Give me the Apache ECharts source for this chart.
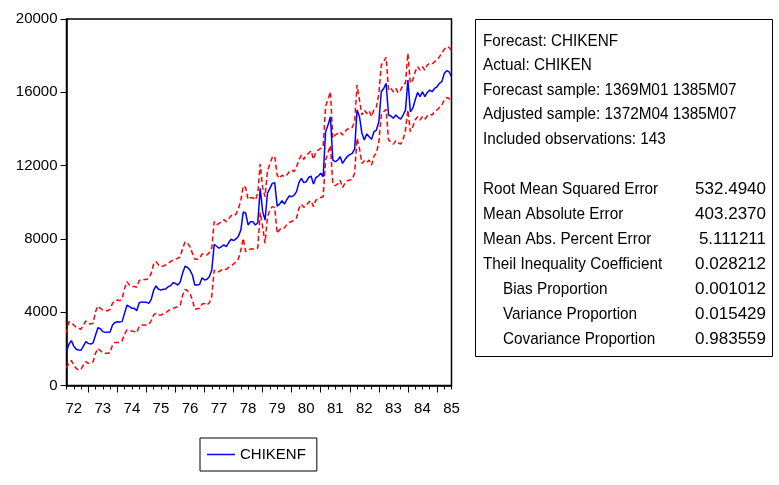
<!DOCTYPE html>
<html lang="en">
<head>
  <meta charset="UTF-8">
  <title>CHIKENF forecast</title>
  <script src="https://cdn.jsdelivr.net/npm/echarts@6/dist/echarts.min.js"></script>
  <style>
    html, body { margin: 0; padding: 0; background: #fff; }
    #chart { width: 779px; height: 485px; }
  </style>
</head>
<body>
  <div id="chart"></div>
  <script>
    // monthly forecast, 1372M04 .. 1385M07 (160 months)
    const startYear = 72, startMonth = 4, nMonths = 160;

    const forecast = [
      1850, 2250, 2450, 2150, 1980, 1940, 1930, 2150, 2390,
      2300, 2260, 2330, 2750, 3150, 3100, 2940, 2900, 2900, 2920, 3300, 3430,
      3480, 3460, 3500, 3950, 4390, 4300, 4210, 4210, 4080, 4500, 4560, 4540,
      4540, 4480, 4700, 5200, 5430, 5250, 5210, 5250, 5270, 5390, 5450, 5610,
      5570, 5480, 5660, 6150, 6520, 6440, 6300, 6030, 5480, 5480, 5520, 5880,
      5760, 5800, 5940, 6300, 7700, 7600, 7490, 7580, 7670, 7580, 7800, 7980,
      7900, 8000, 8150, 8480, 9480, 9400, 8760, 8940, 8940, 8760, 8880, 10760,
      9500, 9030, 10490, 10760, 11030, 11070, 9790, 9900, 10080, 9900, 10150, 10340,
      10300, 10390, 10580, 11070, 11300, 11070, 11120, 11350, 11430, 10990, 11350, 11430,
      11580, 11390, 13850, 14210, 14670, 12300, 12210, 12300, 12490, 12120, 12330, 12500,
      12600, 12670, 12900, 15030, 14670, 13760, 13400, 13730, 13580, 13440, 13850, 13940,
      14400, 16030, 16210, 16490, 14760, 14710, 14580, 14760, 14630, 14530, 14760, 15030,
      16670, 14940, 15120, 15580, 15990, 15760, 16030, 15760, 15990, 16120, 16030, 16210,
      16300, 16490, 16580, 17030, 17180, 17120, 16850
    ];

    const upper = [
      2850, 3480, 3430, 3300, 3170, 3120, 3070, 3300, 3520,
      3390, 3360, 3390, 4030, 4340, 4210, 4120, 4080, 4080, 4160, 4480, 4630,
      4670, 4630, 4760, 5300, 5670, 5480, 5400, 5400, 5360, 5720, 5790, 5790,
      5790, 5850, 6120, 6630, 6760, 6580, 6490, 6520, 6580, 6670, 6760, 6850,
      6890, 6940, 7030, 7490, 7850, 7760, 7580, 7210, 6890, 6890, 6940, 7180,
      7180, 7120, 7250, 7490, 8940, 8760, 8850, 8940, 9050, 8940, 9100, 9280,
      9250, 9350, 9650, 10100, 10890, 10800, 10150, 10250, 10250, 10120, 10490, 12080,
      10800, 10300, 11700, 12100, 12450, 12520, 11480, 11300, 11480, 11390, 11480, 11670,
      11760, 11670, 11940, 12300, 12580, 12340, 12580, 12670, 12810, 12340, 12760, 12850,
      12940, 13030, 15220, 15610, 16030, 13490, 13670, 13760, 13850, 13670, 13850, 14000,
      13990, 14080, 14400, 16400, 15580, 14760, 15030, 14850, 14990, 14670, 15070, 15210,
      15900, 17490, 17670, 17910, 16120, 16210, 16030, 16210, 15970, 16120, 16400, 16500,
      18130, 16490, 16670, 17120, 17400, 17210, 17400, 17210, 17490, 17580, 17540, 17670,
      17760, 17940, 18130, 18340, 18490, 18450, 18270
    ];

    const lower = [
      940, 1210, 1360, 1120, 940, 850, 880, 1120, 1300,
      1210, 1210, 1300, 1760, 2030, 1900, 1790, 1760, 1760, 1790, 2210, 2340,
      2340, 2340, 2450, 2810, 3030, 2990, 2970, 2940, 2880, 3210, 3300, 3300,
      3300, 3340, 3540, 3850, 3940, 3850, 3850, 3900, 3970, 4080, 4160, 4210,
      4260, 4300, 4390, 4940, 5250, 5170, 5030, 4670, 4160, 4190, 4210, 4450,
      4480, 4390, 4520, 4850, 6300, 6210, 6210, 6300, 6360, 6340, 6450, 6520,
      6630, 6760, 6900, 7390, 8030, 7300, 7390, 7450, 7450, 7450, 7500, 9450,
      8670, 7760, 9210, 9580, 9760, 9720, 8300, 8500, 8620, 8600, 8780, 8900,
      8950, 9030, 9150, 9650, 9900, 9720, 9800, 10000, 10080, 9760, 10120, 10150,
      10260, 10300, 12300, 12700, 13100, 11000, 10900, 11000, 11200, 10800, 11030, 11180,
      11210, 11250, 11600, 13490, 12940, 12120, 12260, 12160, 12300, 12030, 12520, 12670,
      13300, 14760, 14940, 15070, 13400, 13300, 13170, 13350, 13250, 13170, 13400, 13940,
      15030, 13850, 14120, 14490, 14670, 14490, 14670, 14530, 14710, 14810, 14760, 14940,
      15030, 15170, 15300, 15580, 15720, 15670, 15490
    ];

    const yTicks = [0, 4000, 8000, 12000, 16000, 20000];

    const statsHead = [
      'Forecast: CHIKENF',
      'Actual: CHIKEN',
      'Forecast sample: 1369M01 1385M07',
      'Adjusted sample: 1372M04 1385M07',
      'Included observations: 143'
    ];
    const statsNames = [
      'Root Mean Squared Error', 'Mean Absolute Error', 'Mean Abs. Percent Error',
      'Theil Inequality Coefficient', 'Bias Proportion', 'Variance Proportion',
      'Covariance Proportion'
    ];
    const statsValues = ['532.4940', '403.2370', '5.111211', '0.028212', '0.001012', '0.015429', '0.983559'];

    // month categories like 72M04
    const months = [];
    for (let k = 0; k < nMonths; k++) {
      const m = (startMonth - 1 + k) % 12 + 1;
      const y = startYear + Math.floor((startMonth - 1 + k) / 12);
      months.push(y + 'M' + (m < 10 ? '0' + m : m));
    }
    const monthOf = i => (startMonth - 1 + i) % 12 + 1;

    const font = "'Liberation Sans', Arial, sans-serif";
    const boxFont = '17px ' + font;

    // text box on the right (eviews text is narrow, so squeeze it a bit)
    const graphics = [{
      type: 'rect',
      shape: { x: 475.5, y: 19.5, width: 297, height: 337 },
      style: { fill: 'none', stroke: '#000', lineWidth: 1 }
    }];
    statsHead.forEach((t, k) => {
      graphics.push({
        type: 'text', x: 483, y: 41 + k * 24.5, scaleX: 0.9,
        style: { text: t, font: boxFont, fill: '#000', textVerticalAlign: 'middle' }
      });
    });
    statsNames.forEach((t, k) => {
      graphics.push({
        type: 'text', x: k >= 4 ? 503 : 483, y: 189 + k * 25, scaleX: 0.9,
        style: { text: t, font: boxFont, fill: '#000', textVerticalAlign: 'middle' }
      });
      graphics.push({
        type: 'text', x: 766, y: 189 + k * 25,
        style: { text: statsValues[k], font: boxFont, fill: '#000', textAlign: 'right', textVerticalAlign: 'middle' }
      });
    });

    const myChart = echarts.init(document.getElementById('chart'));
    const option = {
      animation: false,
      backgroundColor: '#fff',
      grid: { left: 66.5, right: 327.5, top: 19, bottom: 99.5, show: true, borderColor: '#000', borderWidth: 1.5 },
      legend: {
        data: [{ name: 'CHIKENF', icon: 'rect' }],
        left: 200, top: 438,
        padding: [8, 11, 8, 7],
        borderColor: '#000', borderWidth: 1, borderRadius: 0,
        itemWidth: 28, itemHeight: 1.5,
        textStyle: { fontFamily: font, fontSize: 15, color: '#000', lineHeight: 17 }
      },
      xAxis: [{
        type: 'category',
        data: months,
        boundaryGap: false,
        axisLine: { lineStyle: { color: '#000', width: 1.5 } },
        axisTick: { length: 4, interval: i => i % 3 === 0, lineStyle: { color: '#000' } },
        axisLabel: {
          interval: i => monthOf(i) === 7,
          formatter: v => v.slice(0, 2),
          margin: 16,
          fontFamily: font, fontSize: 15, color: '#000'
        },
        splitLine: { show: false }
      }, {
        // longer ticks at January
        type: 'category',
        data: months,
        boundaryGap: false,
        position: 'bottom',
        axisLine: { show: false },
        axisTick: { length: 7, interval: i => monthOf(i) === 1, lineStyle: { color: '#000' } },
        axisLabel: { show: false },
        splitLine: { show: false }
      }],
      yAxis: {
        type: 'value',
        min: 0, max: 20000, interval: 4000,
        axisLine: { show: true, lineStyle: { color: '#000', width: 1.5 } },
        axisTick: { show: true, length: 6, lineStyle: { color: '#000' } },
        axisLabel: {
          margin: 9,
          formatter: v => yTicks.indexOf(v) >= 0 ? String(v) : '',
          fontFamily: font, fontSize: 15, color: '#000'
        },
        splitLine: { show: false }
      },
      series: [{
        name: 'upper', type: 'line', data: upper, symbol: 'none',
        lineStyle: { color: '#ff0000', width: 1.5, type: [5, 3] }
      }, {
        name: 'lower', type: 'line', data: lower, symbol: 'none',
        lineStyle: { color: '#ff0000', width: 1.5, type: [5, 3] }
      }, {
        name: 'CHIKENF', type: 'line', data: forecast, symbol: 'none',
        lineStyle: { color: '#0000ff', width: 1.5 },
        itemStyle: { color: '#0000ff' }
      }],
      graphic: graphics
    };
    myChart.setOption(option);
  </script>
</body>
</html>
